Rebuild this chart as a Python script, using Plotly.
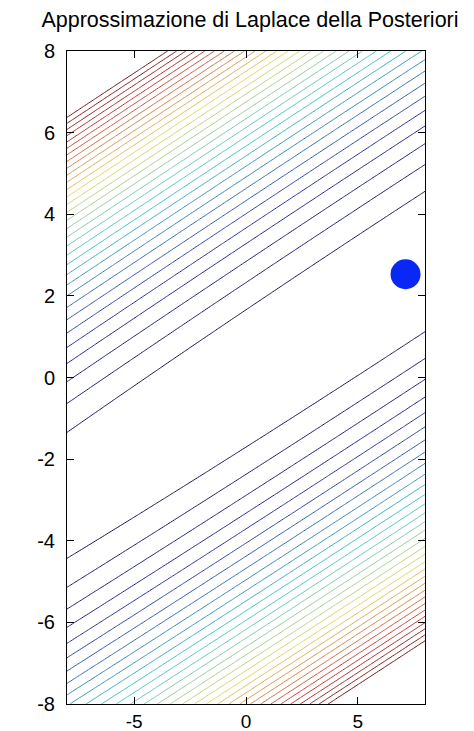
import numpy as np
import plotly.graph_objects as go

# Laplace approximation: mode (MAP) and precision matrix of the Gaussian
mode_w = [7.13, 2.53]
precision = [[0.0486, -0.1331],
             [-0.1331, 0.3717]]
# contour levels of the quadratic form (Mahalanobis distance squared)
level_start = 1.1
level_end = 32.1
level_step = 1.0

x_range = [-8, 8]
y_range = [-8, 8]
x_ticks = [-5, 0, 5]
x_ticklabels = ["-5", "0", "5"]
y_ticks = [-8, -6, -4, -2, 0, 2, 4, 6, 8]
y_ticklabels = ["-8", "-6", "-4", "-2", "0", "2", "4", "6", "8"]

title_text = "Approssimazione di Laplace della Posteriori"

# grid evaluation
gx = np.linspace(x_range[0], x_range[1], 201)
gy = np.linspace(y_range[0], y_range[1], 201)
XX, YY = np.meshgrid(gx, gy)
dx = XX - mode_w[0]
dy = YY - mode_w[1]
A = np.array(precision)
Z = A[0, 0] * dx**2 + 2 * A[0, 1] * dx * dy + A[1, 1] * dy**2

# muted jet (thin lines in the original look darker / softer)
jet = [
    [0.0, "rgb(20,20,90)"],
    [0.11, "rgb(35,35,150)"],
    [0.36, "rgb(60,195,210)"],
    [0.61, "rgb(230,215,90)"],
    [0.86, "rgb(195,55,50)"],
    [1.0, "rgb(110,20,20)"],
]

fig = go.Figure()
fig.add_trace(go.Contour(
    x=gx, y=gy, z=Z,
    contours=dict(start=level_start, end=level_end, size=level_step,
                  coloring="lines"),
    colorscale=jet, zmin=level_start, zmax=level_end,
    line=dict(width=1),
    showscale=False, hoverinfo="skip",
))
fig.add_trace(go.Scatter(
    x=[mode_w[0]], y=[mode_w[1]], mode="markers",
    marker=dict(size=30, color="rgb(10,40,245)"),
    showlegend=False,
))

axis_common = dict(
    showline=True, linecolor="black", linewidth=1, mirror="ticks",
    ticks="inside", ticklen=7, tickcolor="black", showgrid=False,
    zeroline=False, automargin=False,
)

# the page body adds an 8px offset; the figure is sized to fill the rest
fig.update_layout(
    width=466, height=723,
    margin=dict(l=59, r=49, t=43, b=27),
    paper_bgcolor="white", plot_bgcolor="white",
    showlegend=False,
    title=dict(text=title_text, x=242 / 466, xref="container", xanchor="center",
               y=1 - 11 / 723, yref="container", yanchor="middle",
               font=dict(family="Liberation Sans", size=21.5, color="black")),
    xaxis=dict(range=x_range, tickmode="array", tickvals=x_ticks,
               ticktext=x_ticklabels, ticklabelstandoff=0,
               tickfont=dict(family="Liberation Sans", size=19, color="black"),
               **axis_common),
    yaxis=dict(range=y_range, tickmode="array", tickvals=y_ticks,
               ticktext=y_ticklabels, ticklabelstandoff=7,
               tickfont=dict(family="Liberation Sans", size=20, color="black"),
               **axis_common),
)

fig.write_html("out.html")
